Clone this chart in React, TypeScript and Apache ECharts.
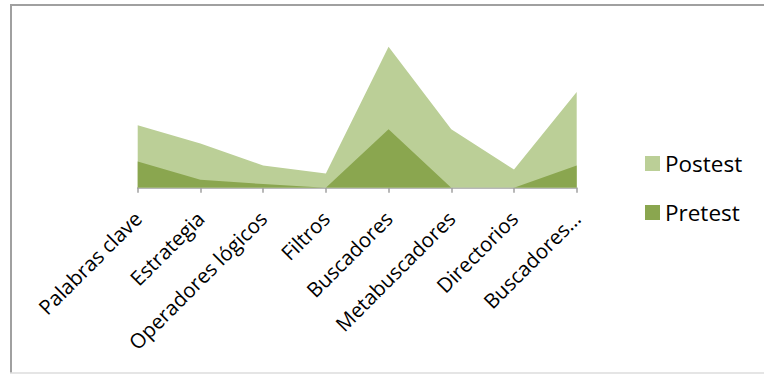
import React, { useEffect, useRef } from "react";
import * as echarts from "echarts";

const categories = [
  "Palabras clave",
  "Estrategia",
  "Operadores lógicos",
  "Filtros",
  "Buscadores",
  "Metabuscadores",
  "Directorios",
  "Buscadores…",
];
const postest = [31, 22, 11, 7, 70, 29, 9, 47.5];
const pretest = [13, 4, 1.8, 0, 29, 0, 0, 11];

const POST_COLOR = "#bbcf97";
const PRE_COLOR = "#8aa64f";

export default function App() {
  const ref = useRef<HTMLDivElement>(null);
  useEffect(() => {
    if (!ref.current) return;
    const chart = echarts.init(ref.current, undefined, { renderer: "svg" });
    chart.setOption({
      animation: false,
      backgroundColor: "#ffffff",
      grid: { left: 137.7, right: 187.3, top: 26.6, bottom: 186.3, containLabel: false },
      xAxis: {
        type: "category",
        data: categories,
        boundaryGap: false,
        axisLine: { lineStyle: { color: "#a0a0a0", width: 1.5 } },
        axisTick: { show: true, length: 5, alignWithLabel: true, lineStyle: { color: "#a0a0a0", width: 1.5 } },
        axisLabel: {
          rotate: 45,
          interval: 0,
          margin: 27,
          color: "#000000",
          fontFamily: "Open Sans",
          fontSize: 20.5,
        },
        splitLine: { show: false },
      },
      yAxis: {
        type: "value",
        min: 0,
        max: 80,
        show: false,
        splitLine: { show: false },
      },
      legend: {
        orient: "vertical",
        left: 640,
        top: 147,
        itemWidth: 15,
        itemHeight: 15,
        itemGap: 26,
        icon: "rect",
        data: ["Postest", "Pretest"],
        textStyle: { color: "#000000", fontFamily: "Open Sans", fontSize: 22.5 },
      },
      series: [
        {
          name: "Postest",
          type: "line",
          data: postest,
          symbol: "none",
          lineStyle: { width: 0, color: POST_COLOR },
          itemStyle: { color: POST_COLOR },
          areaStyle: { color: POST_COLOR, opacity: 1 },
        },
        {
          name: "Pretest",
          type: "line",
          data: pretest,
          symbol: "none",
          lineStyle: { width: 0, color: PRE_COLOR },
          itemStyle: { color: PRE_COLOR },
          areaStyle: { color: PRE_COLOR, opacity: 1 },
        },
      ],
      graphic: [
        { type: "line", shape: { x1: 10, y1: 5, x2: 764, y2: 5 }, style: { stroke: "#a0a0a0", lineWidth: 2 } },
        { type: "line", shape: { x1: 11, y1: 4, x2: 11, y2: 373 }, style: { stroke: "#a0a0a0", lineWidth: 2 } },
        { type: "line", shape: { x1: 10, y1: 373, x2: 764, y2: 373 }, style: { stroke: "#dcdcdc", lineWidth: 1.5 } },
      ],
    });
    return () => chart.dispose();
  }, []);
  return (
    <div
      ref={ref}
      style={{ position: "fixed", left: 0, top: 0, width: 764, height: 374 }}
    />
  );
}
